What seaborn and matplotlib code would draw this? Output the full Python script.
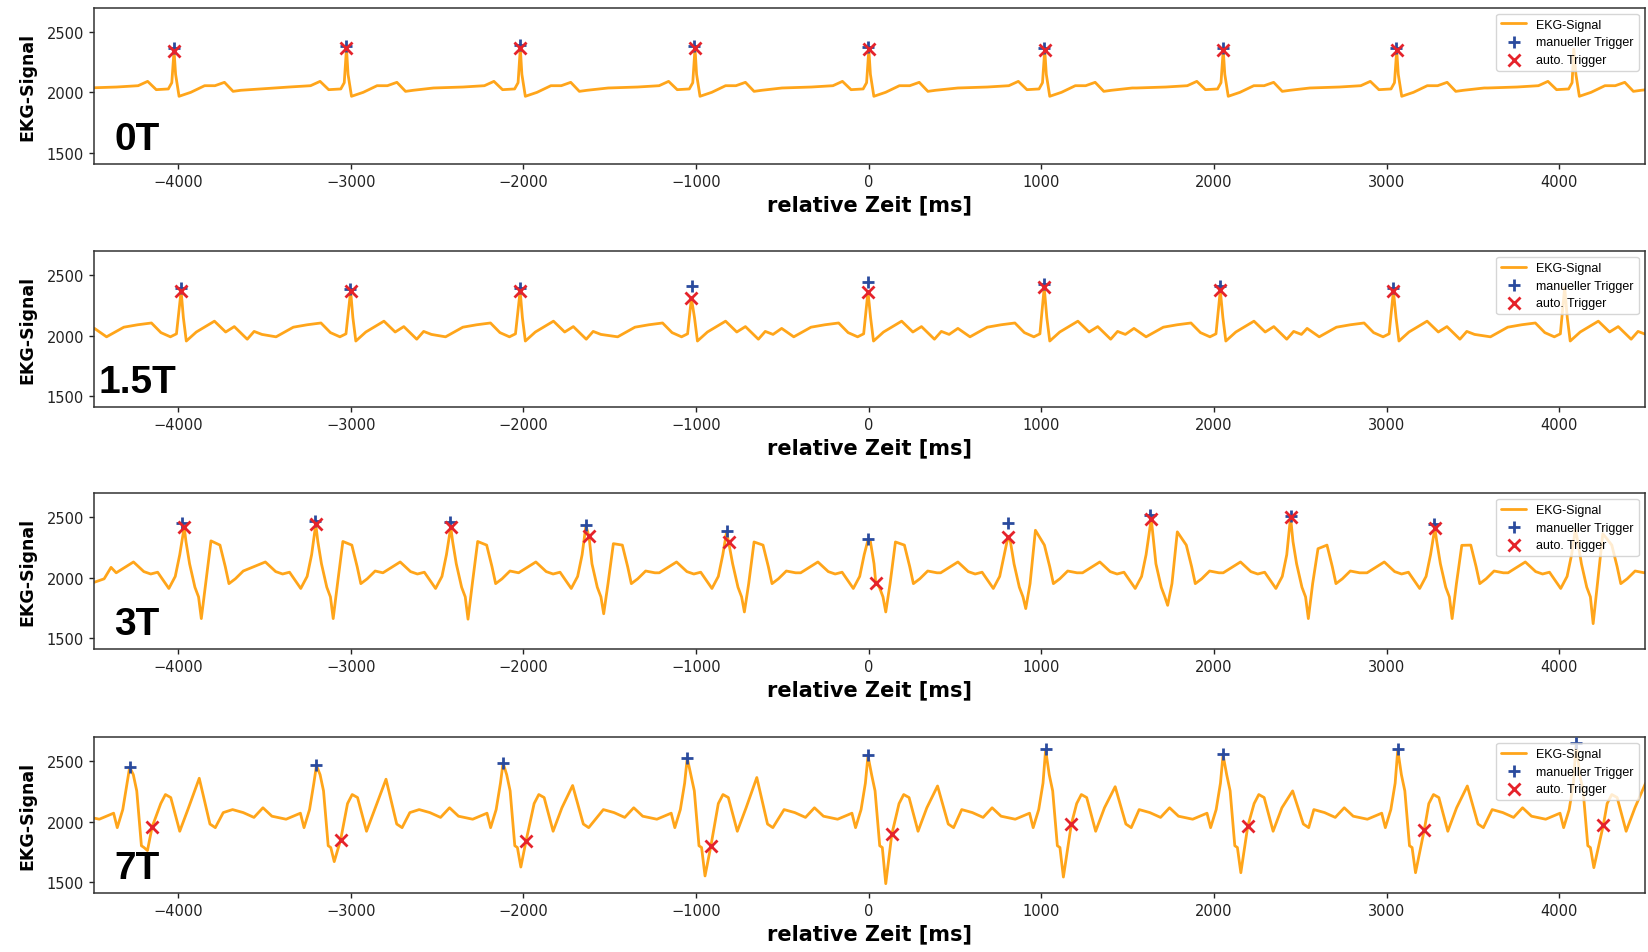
import numpy as np
import matplotlib
matplotlib.use("Agg")
import matplotlib.pyplot as plt
import seaborn as sns

# ---------------------------------------------------------------------------
# Field strengths shown in the four rows
FIELDS = ["0T", "1.5T", "3T", "7T"]

# ---------------------------------------------------------------------------
# 0T: R-peak times [ms], peak heights, beat shape (offset to R [ms] / value)
P1_BEATS = [-4027, -3028, -2021, -1009, -2, 1017, 2051, 3056, 4085]
P1_R = [2352, 2370, 2372, 2372, 2362, 2358, 2356, 2354, 2360]
P1_SHAPE_MS = [-560, -500, -330, -205, -150, -100, -30, -10, 0, 12, 32, 100,
               180, 240, 295, 345, 390, 510, 560]
P1_SHAPE_VAL = [2036, 2036, 2044, 2055, 2091, 2022, 2028, 2080, "R", 2150,
                1967, 2000, 2055, 2055, 2083, 2008, 2017, 2036, 2036]
P1_MAN_T = [-4027, -3028, -2021, -1009, -2, 1017, 2051, 3056]
P1_MAN_V = [2368, 2382, 2390, 2384, 2376, 2372, 2370, 2366]
P1_AUTO_T = [-4024, -3025, -2018, -1006, 1, 1020, 2054, 3059]
P1_AUTO_V = [2347, 2366, 2367, 2368, 2358, 2354, 2352, 2350]

# 1.5T
P2_BEATS = [-3985, -3003, -2021, -1024, -4, 1017, 2037, 3040, 4032]
P2_R = [2372, 2372, 2372, 2400, 2440, 2420, 2410, 2390, 2400]
P2_SHAPE_MS = [-560, -500, -430, -330, -250, -170, -115, -60, -25, 0, 15,
               32, 90, 195, 260, 310, 385, 425, 470, 520, 560]
P2_SHAPE_VAL = [2050, 2060, 1990, 2070, 2090, 2105, 2025, 1990, 2015, "R",
                2150, 1955, 2030, 2120, 2030, 2075, 1970, 2035, 2010, 2060,
                2050]
P2_MAN_T = [-3985, -3003, -2021, -1024, -4, 1017, 2037, 3040]
P2_MAN_V = [2394, 2390, 2392, 2408, 2449, 2427, 2416, 2394]
P2_AUTO_T = [-3983, -3001, -2019, -1027, -4, 1017, 2037, 3040]
P2_AUTO_V = [2372, 2370, 2372, 2311, 2366, 2400, 2375, 2372]

# 3T
P3_BEATS = [-3969, -3205, -2424, -1638, -823, -4, 807, 1629, 2444, 3277, 4094]
P3_R = [2435, 2455, 2450, 2430, 2380, 2312, 2450, 2505, 2505, 2440, 2400]
P3_S = [1660, 1660, 1655, 1700, 1715, 1715, 1743, 1770, 1660, 1660, 1618]
P3_T = [2305, 2300, 2300, 2282, 2296, 2296, 2393, 2380, 2240, 2268, 2365]
P3_SHAPE_MS = [-560, -530, -460, -420, -390, -290, -230, -190, -150, -85,
               -48, -22, 0, 14, 35, 66, 87, 103, 128, 159, 211, 242, 263,
               300, 346, 400, 470, 520]
P3_SHAPE_VAL = [1950, 1955, 1990, 2085, 2040, 2130, 2050, 2030, 2045, 1910,
                2010, 2190, "R", 2300, 2115, 1920, 1840, "S", 1950, "T", 2270,
                2090, 1950, 1990, 2055, 2040, 2115, 2060]
P3_MAN_T = [-3975, -3205, -2426, -1638, -823, -4, 807, 1629, 2444, 3277]
P3_MAN_V = [2454, 2468, 2462, 2434, 2387, 2318, 2457, 2517, 2512, 2448]
P3_AUTO_T = [-3965, -3203, -2421, -1620, -811, 41, 807, 1637, 2444, 3280]
P3_AUTO_V = [2420, 2443, 2420, 2343, 2293, 1958, 2338, 2490, 2504, 2412]

# 7T
P4_BEATS = [-4281, -3199, -2118, -1051, -4, 1025, 2053, 3065, 4098]
P4_R = [2452, 2466, 2486, 2528, 2546, 2596, 2554, 2596, 2650]
P4_S = [1760, 1668, 1623, 1549, 1485, 1540, 1576, 1576, 1618]
P4_T = [2360, 2352, 2300, 2366, 2296, 2290, 2255, 2296, 2320]
P4_SHAPE_MS = [-560, -540, -486, -424, -362, -310, -258, -176, -93, -72,
               -40, -15, 0, 21, 41, 68, 83, 103, 180, 207, 238, 290, 341,
               403, 465, 496, 548, 560]
P4_SHAPE_VAL = [2075, 2075, 2100, 2075, 2035, 2115, 2045, 2020, 2070, 1950,
                2100, 2320, "R", 2390, 2255, 1800, 1785, "S", 2150, 2225,
                2200, 1920, 2115, "T", 1980, 1950, 2050, 2075]
P4_MAN_T = [-4281, -3199, -2118, -1051, -4, 1025, 2053, 3065, 4098]
P4_MAN_V = [2457, 2471, 2490, 2532, 2551, 2601, 2559, 2601, 2656]
P4_AUTO_T = [-4151, -3059, -1985, -914, 134, 1174, 2196, 3219, 4256]
P4_AUTO_V = [1956, 1848, 1839, 1798, 1895, 1978, 1961, 1934, 1972]

X_TICKS = [-4000, -3000, -2000, -1000, 0, 1000, 2000, 3000, 4000]
Y_TICKS = [1500, 2000, 2500]


def build_trace(beats, shape_ms, shape_val, per_beat, auto_t, auto_v):
    """Chain the beat shape around every R peak; trigger points lie on it."""
    ts, vs = [], []
    for i, b in enumerate(beats):
        left = -1e9 if i == 0 else (beats[i - 1] + b) / 2
        right = 1e9 if i == len(beats) - 1 else (b + beats[i + 1]) / 2
        for off, val in zip(shape_ms, shape_val):
            t = b + off
            if left <= t < right:
                v = per_beat[val][i] if isinstance(val, str) else val
                ts.append(t)
                vs.append(v)
    ts = np.array(ts, float)
    vs = np.array(vs, float)
    keep = np.ones(len(ts), bool)
    for at in auto_t:
        keep &= np.abs(ts - at) > 8
    ts = np.concatenate([ts[keep], auto_t])
    vs = np.concatenate([vs[keep], auto_v])
    order = np.argsort(ts)
    return ts[order], vs[order]


panels = [
    (P1_BEATS, P1_SHAPE_MS, P1_SHAPE_VAL, {"R": P1_R},
     P1_MAN_T, P1_MAN_V, P1_AUTO_T, P1_AUTO_V),
    (P2_BEATS, P2_SHAPE_MS, P2_SHAPE_VAL, {"R": P2_R},
     P2_MAN_T, P2_MAN_V, P2_AUTO_T, P2_AUTO_V),
    (P3_BEATS, P3_SHAPE_MS, P3_SHAPE_VAL, {"R": P3_R, "S": P3_S, "T": P3_T},
     P3_MAN_T, P3_MAN_V, P3_AUTO_T, P3_AUTO_V),
    (P4_BEATS, P4_SHAPE_MS, P4_SHAPE_VAL, {"R": P4_R, "S": P4_S, "T": P4_T},
     P4_MAN_T, P4_MAN_V, P4_AUTO_T, P4_AUTO_V),
]

sns.set_style("ticks")
plt.rcParams["font.family"] = ["DejaVu Sans"]
plt.rcParams["axes.edgecolor"] = "#333333"
plt.rcParams["axes.linewidth"] = 1.1

LINE_C = "#FFA51A"
MAN_C = "#2A4B9E"
AUTO_C = "#E5232B"

fig = plt.figure(figsize=(16.48, 9.53), dpi=100)
W, H = 1648.0, 953.0
ax_left, ax_w, ax_h = 93.6 / W, 1551.0 / W, 156.0 / H
tops = [9.0, 252.3, 494.3, 738.3]

for k, (field, p) in enumerate(zip(FIELDS, panels)):
    beats, sms, sval, per_beat, mt, mv, at, av = p
    ax = fig.add_axes([ax_left, 1 - (tops[k] + 156.0) / H, ax_w, ax_h])
    t, v = build_trace(beats, sms, sval, per_beat, np.array(at, float),
                       np.array(av, float))
    sns.lineplot(x=t, y=v, ax=ax, color=LINE_C, lw=2.0, sort=False,
                 estimator=None, label="EKG-Signal", zorder=2,
                 solid_joinstyle="round")
    sns.scatterplot(x=mt, y=mv, ax=ax, marker="+", color=MAN_C, s=70,
                    linewidth=2.0, label="manueller Trigger", zorder=3)
    sns.scatterplot(x=at, y=av, ax=ax, marker="x", color=AUTO_C, s=75,
                    linewidth=2.0, label="auto. Trigger", zorder=4)

    ax.set_xlim(-4490, 4495)
    ax.set_ylim(1405, 2700)
    ax.set_xticks(X_TICKS)
    ax.set_yticks(Y_TICKS)
    ax.tick_params(labelsize=10.5, colors="#222222", length=3.5, width=1.0)
    ax.set_xlabel("relative Zeit [ms]", fontsize=15, fontweight="bold",
                  labelpad=4, color="black")
    ax.set_ylabel("EKG-Signal", fontsize=12.5, fontweight="bold", labelpad=7,
                  color="black")

    ax.text(0.028, 0.096, field, transform=ax.transAxes, ha="center",
            va="baseline", fontsize=28, fontweight="bold", color="black",
            family=["Liberation Sans", "DejaVu Sans"], zorder=5)

    leg = ax.legend(loc="upper right", prop={"family": "Liberation Sans",
                                             "size": 9},
                    framealpha=0.8, borderaxespad=0.45, labelspacing=0.45,
                    handletextpad=0.8)
    for txt in leg.get_texts():
        txt.set_color("black")
    leg.set_zorder(10)

fig.savefig("out.png", dpi=100)
